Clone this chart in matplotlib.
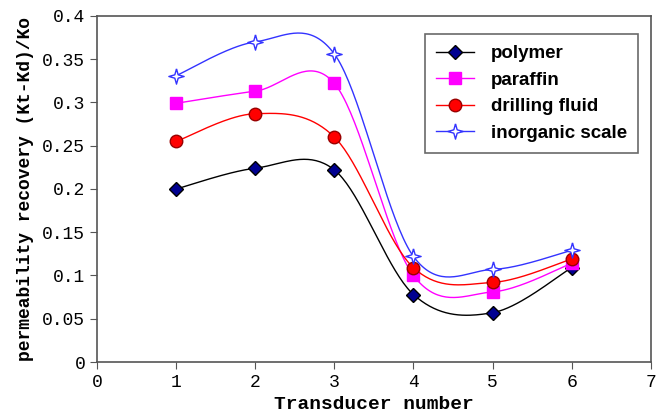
import numpy as np
import matplotlib
matplotlib.use('Agg')
import matplotlib.pyplot as plt

transducer = [1, 2, 3, 4, 5, 6]
polymer = [0.200, 0.224, 0.222, 0.078, 0.057, 0.109]
paraffin = [0.299, 0.313, 0.322, 0.100, 0.081, 0.114]
drilling_fluid = [0.255, 0.287, 0.260, 0.109, 0.092, 0.119]
inorganic_scale = [0.331, 0.370, 0.356, 0.122, 0.107, 0.129]


def smooth(x, y, n=40):
    # excel-style smoothed line (catmull-rom through the points)
    x = np.asarray(x, float)
    y = np.asarray(y, float)
    px = np.concatenate([[x[0]], x, [x[-1]]])
    py = np.concatenate([[y[0]], y, [y[-1]]])
    xs, ys = [], []
    t = np.linspace(0, 1, n)
    for i in range(1, len(px) - 2):
        p0, p1, p2, p3 = px[i-1], px[i], px[i+1], px[i+2]
        q0, q1, q2, q3 = py[i-1], py[i], py[i+1], py[i+2]
        c1x, c1y = p1 + (p2 - p0) / 6, q1 + (q2 - q0) / 6
        c2x, c2y = p2 - (p3 - p1) / 6, q2 - (q3 - q1) / 6
        b0, b1, b2, b3 = (1-t)**3, 3*(1-t)**2*t, 3*(1-t)*t**2, t**3
        xs.append(b0*p1 + b1*c1x + b2*c2x + b3*p2)
        ys.append(b0*q1 + b1*c1y + b2*c2y + b3*q2)
    return np.concatenate(xs), np.concatenate(ys)


star4 = [(0, 1), (0.22, 0.22), (1, 0), (0.22, -0.22), (0, -1),
         (-0.22, -0.22), (-1, 0), (-0.22, 0.22), (0, 1)]

series = [
    ('polymer', polymer, 'black', dict(marker='D', ms=7, mfc='#000090', mec='black')),
    ('paraffin', paraffin, '#FF00FF', dict(marker='s', ms=8, mfc='#FF00FF', mec='#FF00FF')),
    ('drilling fluid', drilling_fluid, '#FF0000', dict(marker='o', ms=9, mfc='#FF0000', mec='#990000')),
    ('inorganic scale', inorganic_scale, '#3333FF', dict(marker=star4, ms=11, mfc='white', mec='#3333FF', mew=1)),
]

fig = plt.figure(figsize=(6.56, 4.19), dpi=100)
ax = fig.add_axes([0.148, 0.136, 0.844, 0.826])

for name, vals, col, mk in series:
    sx, sy = smooth(transducer, vals)
    ax.plot(sx, sy, color=col, lw=1)
    ax.plot(transducer, vals, ls='none', **mk)
    ax.plot([], [], color=col, lw=1, label=name, **mk)

ax.set_xlim(0, 7)
ax.set_ylim(0, 0.4)
ax.set_xticks(range(0, 8))
ax.set_yticks(np.arange(0, 0.41, 0.05))
ax.set_yticklabels(['0', '0.05', '0.1', '0.15', '0.2', '0.25', '0.3', '0.35', '0.4'])
for s in ax.spines.values():
    s.set_color('#555555')
    s.set_linewidth(1.2)
ax.tick_params(direction='out', length=5, color='#555555', labelsize=13)
for lab in ax.get_xticklabels() + ax.get_yticklabels():
    lab.set_family('Liberation Mono')

ax.set_xlabel('Transducer number', family='Liberation Mono', fontsize=14,
              fontweight='bold', labelpad=4)
ax.set_ylabel('permeability recovery (Kt-Kd)/Ko', family='Liberation Mono',
              fontsize=13, fontweight='semibold', labelpad=6)

leg = ax.legend(loc='upper right', bbox_to_anchor=(0.977, 0.948), fancybox=False,
                edgecolor='#444444', prop={'family': 'Liberation Sans', 'weight': 'bold', 'size': 13.5},
                handlelength=2.0, labelspacing=0.5, borderpad=0.6, handletextpad=0.9,
                borderaxespad=0)
leg.get_frame().set_linewidth(1.2)

fig.savefig('out.png', dpi=100)
